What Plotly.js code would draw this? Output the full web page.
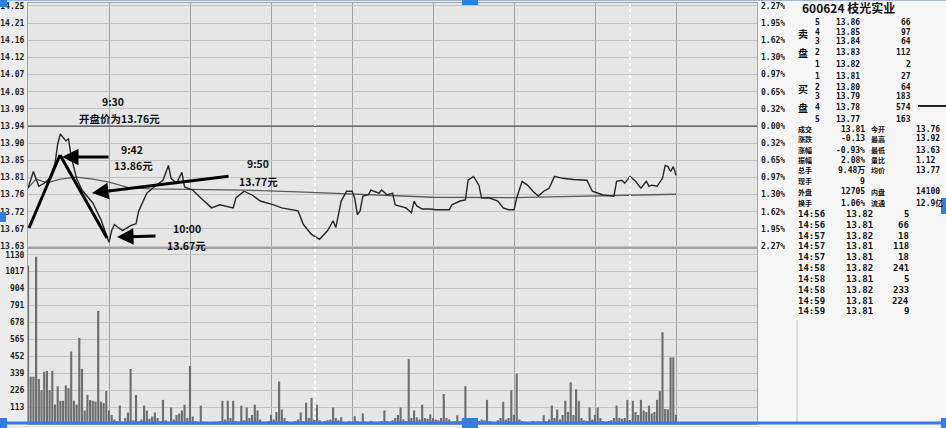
<!DOCTYPE html>
<html><head><meta charset="utf-8">
<script src="https://cdn.plot.ly/plotly-3.0.1.min.js"></script>
<style>html,body{margin:0;padding:0;background:#ececec;overflow:hidden}#chart{width:946px;height:428px}</style>
</head><body><div id="chart"></div>
<script>
// ---------- data ----------
const priceTime = [0,2,4,6,8,10,11,12,14,15,16,18,20,24,27,29,30,31,32,33,35,38,40,41,44,47,50,52,53,55,57,58,61,64,68,71,76,77,80,83,86,91,94,100,102,105,108,111,113,114,116,118,120,121,122,123,124,126,127,130,131,133,135,136,138,140,142,143,144,146,149,151,156,157,160,162,163,165,167,168,171,174,176,178,180,181,183,185,187,189,191,193,195,198,202,207,209,213,217,218,220,221,223,225,227,229,230,231,233,235,236,237,238,239,240];
const price = [13.776,13.820,13.781,13.789,13.802,13.841,13.893,13.919,13.901,13.906,13.859,13.802,13.771,13.737,13.693,13.654,13.633,13.664,13.680,13.674,13.664,13.677,13.682,13.716,13.763,13.781,13.797,13.836,13.802,13.789,13.818,13.779,13.771,13.750,13.724,13.732,13.724,13.750,13.768,13.758,13.742,13.732,13.724,13.716,13.680,13.654,13.641,13.664,13.690,13.672,13.742,13.768,13.768,13.750,13.706,13.716,13.755,13.758,13.771,13.763,13.771,13.758,13.763,13.732,13.729,13.724,13.711,13.742,13.729,13.721,13.721,13.719,13.719,13.732,13.742,13.745,13.797,13.807,13.784,13.750,13.750,13.742,13.724,13.719,13.719,13.750,13.794,13.784,13.768,13.755,13.768,13.776,13.807,13.802,13.799,13.797,13.768,13.758,13.755,13.794,13.797,13.789,13.807,13.794,13.776,13.794,13.781,13.784,13.781,13.802,13.836,13.833,13.820,13.833,13.810];
const avgTime = [0,3,7,12,18,24,30,37,45,60,80,100,120,150,180,210,240];
const avgPrice = [13.776,13.800,13.790,13.800,13.805,13.800,13.792,13.778,13.774,13.772,13.771,13.766,13.760,13.752,13.751,13.755,13.760];
const volume = [1059,316,316,1117,300,226,349,355,226,355,130,252,155,155,258,239,484,155,130,575,368,90,194,160,155,150,755,150,140,220,
90,60,30,20,123,15,40,77,368,25,194,20,30,123,90,35,50,77,40,20,161,25,15,110,30,60,70,90,129,40,
387,50,20,10,123,15,10,8,10,15,10,20,155,30,155,40,155,20,15,123,25,110,40,60,129,90,30,15,10,20,
60,30,80,284,97,40,20,10,15,20,30,77,20,142,40,174,30,129,25,15,20,25,30,110,40,25,45,15,10,20,
15,52,20,10,71,15,10,20,15,10,15,20,90,20,15,25,40,60,110,30,20,433,40,90,45,30,129,40,35,65,
40,30,25,40,200,40,30,15,20,58,20,30,252,40,20,15,10,20,30,25,161,20,15,10,25,40,148,30,40,226,
60,336,30,20,15,10,15,20,15,20,15,58,20,30,123,40,97,30,60,155,80,278,60,232,155,40,25,20,110,30,
60,110,40,20,15,20,25,40,123,40,35,40,161,40,155,80,60,161,90,80,123,70,80,161,220,613,100,97,445,445,60];
const priceLabels = ['14.25','14.21','14.16','14.12','14.07','14.03','13.99','13.94','13.90','13.85','13.81','13.76','13.72','13.67','13.63'];
const pctLabels = ['2.27%','1.95%','1.62%','1.30%','0.97%','0.65%','0.32%','0.00%','0.32%','0.65%','0.97%','1.30%','1.62%','1.95%','2.27%'];
const volLabels = ['1130','1017','904','791','678','565','452','339','226','113'];
const noteText = ['9:30','开盘价为13.76元','9:42','13.86元','9:50','13.77元','10:00','13.67元'];
const stockTitle = '600624 枝光实业';
const bookSide = ['卖','盘','买','盘'];
const bookIndex = ['5','4','3','2','1','1','2','3','4','5'];
const bookPrice = ['13.86','13.85','13.84','13.83','13.82','13.81','13.80','13.79','13.78','13.77'];
const bookVol = ['66','97','64','112','2','27','64','183','574','163'];
const statLabelA = ['成交','涨跌','涨幅','振幅','总手','现手','外盘','换手'];
const statValueA = ['13.81','-0.13','-0.93%','2.08%','9.48万','9','12705','1.06%'];
const statLabelB = ['今开','最高','最低','量比','均价','','内盘','流通'];
const statValueB = ['13.76','13.92','13.63','1.12','13.77','','14100','12.9亿'];
const tickTimes = ['14:56','14:56','14:57','14:57','14:57','14:58','14:58','14:58','14:59','14:59'];
const tickPrices = ['13.82','13.81','13.82','13.81','13.81','13.82','13.81','13.82','13.81','13.81'];
const tickVols = ['5','66','18','118','18','241','5','233','224','9'];

// ---------- layout helpers ----------
const prevClose = 13.94, gridStep = 0.0453;
const priceTickVals = priceLabels.map((t,i)=>prevClose + (7-i)*gridStep);
const volTickVals = volLabels.map(Number);
const ML=28, MT=3, PW=729, PH=421;
const px2x = px => (px-ML)/PW;
const px2y = py => 1-(py-MT)/PH;
const splitY = px2y(248);

const monoFont = {family:'DejaVu Sans Mono, Noto Sans CJK SC', size:9, color:'#111', weight:'bold'};
const smallMono = {family:'DejaVu Sans Mono, Noto Sans CJK SC', size:8, color:'#111', weight:'bold'};
const cjkFont = {family:'Noto Sans CJK SC, DejaVu Sans', size:10, color:'#111', weight:'bold'};
const cjkSmall = {family:'Noto Sans CJK SC, DejaVu Sans', size:7, color:'#111', weight:'bold'};
function T(px,py,text,anchor,font){
  return {xref:'paper',yref:'paper',x:px2x(px),y:px2y(py),text:text,showarrow:false,
          xanchor:anchor||'left',yanchor:'middle',font:font||monoFont,borderpad:0};
}
function Arrow(hx,hy,tx,ty){
  return {xref:'paper',yref:'paper',x:px2x(hx),y:px2y(hy),ax:tx-hx,ay:ty-hy,axref:'pixel',ayref:'pixel',
          text:'',showarrow:true,arrowhead:2,arrowsize:1.1,arrowwidth:3,arrowcolor:'#000',standoff:0,startstandoff:0};
}
const noteFont = {family:'Noto Sans CJK SC, DejaVu Sans', size:10.5, color:'#111', weight:'bold'};
const annotations = [
  T(113,101,noteText[0],'center',noteFont), T(119,118,noteText[1],'center',noteFont),
  T(132,149,noteText[2],'center',noteFont), T(133,166,noteText[3],'center',noteFont),
  T(258,164,noteText[4],'center',noteFont), T(258,181,noteText[5],'center',noteFont),
  T(187,228,noteText[6],'center',noteFont), T(186,245,noteText[7],'center',noteFont),
  Arrow(62,157,110,157), Arrow(92,193,230,176), Arrow(117,237,157,236),
  T(801,7,stockTitle,'left',{family:'Noto Sans CJK SC, DejaVu Sans',size:12,color:'#111',weight:'bold'})
];
const bookY=[22,32,42,53,64,76,87,97,108,119];
const sideY=[33,53,88,108];
bookSide.forEach((s,i)=>annotations.push(T(803,sideY[i],s,'center',cjkFont)));
bookY.forEach((y,i)=>{
  annotations.push(T(817,y,bookIndex[i],'center',smallMono));
  annotations.push(T(835,y,bookPrice[i],'left',smallMono));
  annotations.push(T(912,y,bookVol[i],'right',smallMono));
});
const statY=[129,139,150,160,170,181,192,203];
statY.forEach((y,i)=>{
  annotations.push(T(797,y,statLabelA[i],'left',cjkSmall));
  annotations.push(T(866,y,statValueA[i],'right',smallMono));
  if(statLabelB[i]) annotations.push(T(870,y,statLabelB[i],'left',cjkSmall));
  if(statValueB[i]) annotations.push(T(915,y,statValueB[i],'left',smallMono));
});
const tickY=[214,225,236,246,257,268,279,290,301,311];
tickY.forEach((y,i)=>{
  annotations.push(T(797,y,tickTimes[i],'left'));
  annotations.push(T(845,y,tickPrices[i],'left'));
  annotations.push(T(910,y,tickVols[i],'right'));
});

const blue='#2f7fe0';
function R(x0,y0,x1,y1,fill,layer){return {type:'rect',xref:'paper',yref:'paper',x0:px2x(x0),x1:px2x(x1),y0:px2y(y1),y1:px2y(y0),fillcolor:fill,line:{width:0},layer:layer||'above'};}
function L(x0,y0,x1,y1,color,w,dash){return {type:'line',xref:'paper',yref:'paper',x0:px2x(x0),x1:px2x(x1),y0:px2y(y0),y1:px2y(y1),line:{color:color,width:w,dash:dash||'solid'}};}
const shapes = [
  R(757,-2,948,430,'#f6f6f6','below'),
  {type:'line',xref:'paper',yref:'y',x0:0,x1:1,y0:prevClose,y1:prevClose,line:{color:'#4a4a4a',width:1.3}},
  L(315,3,315,424,'#ffffff',2,'dot'), L(630,3,630,424,'#ffffff',2,'dot'),
  L(797,320,797,424,'#c8c8c8',1),
  L(918,106,946,106,'#222',2),
  // editor frame / handles
  L(0,0.5,946,0.5,'#9db8d8',1),
  L(0,423,946,423,blue,3),
  R(0,0,7,7,blue), R(462,0,478,5,blue), R(0,212,6,222,blue),
  R(0,418,7,428,blue), R(462,418,478,428,blue), R(941,198,946,214,blue), R(941,418,946,428,blue),
  // hand-drawn trend lines
  L(29,228,60,155,'#000',3), L(60,155,107,238,'#000',3)
];

const traces = [
  {type:'bar',x:volume.map((v,i)=>i),y:volume,xaxis:'x2',yaxis:'y2',marker:{color:'#6f6f6f',line:{width:0}},hoverinfo:'skip'},
  {type:'scatter',mode:'lines',x:avgTime,y:avgPrice,xaxis:'x',yaxis:'y',line:{color:'#5a5a5a',width:1.3},hoverinfo:'skip'},
  {type:'scatter',mode:'lines',x:priceTime,y:price,xaxis:'x',yaxis:'y',line:{color:'#262626',width:1.4},hoverinfo:'skip'},
  {type:'scatter',mode:'lines',x:[0],y:[prevClose],xaxis:'x',yaxis:'y3',opacity:0,hoverinfo:'skip'}
];

const axFont = {family:'DejaVu Sans Mono', size:8, color:'#222', weight:'bold'};
const layout = {
  width:946, height:428, margin:{l:ML,r:189,t:MT,b:4},
  paper_bgcolor:'#ececec', plot_bgcolor:'#e6e6e6', showlegend:false, bargap:0.2,
  xaxis:{domain:[0,1],range:[0,270],anchor:'y',tickmode:'linear',tick0:0,dtick:30,showgrid:true,gridcolor:'#a2a2a2',gridwidth:1,
         showticklabels:false,ticks:'',zeroline:false,showline:true,mirror:true,linecolor:'#a2a2a2'},
  xaxis2:{domain:[0,1],range:[0,270],anchor:'y2',matches:'x',tickmode:'linear',tick0:0,dtick:30,showgrid:true,gridcolor:'#a2a2a2',
         showticklabels:false,ticks:'',zeroline:false,showline:true,mirror:true,linecolor:'#a2a2a2'},
  yaxis:{domain:[splitY,1],range:[13.618,14.265],tickmode:'array',tickvals:priceTickVals,ticktext:priceLabels,
         showgrid:true,gridcolor:'#c4c4c4',gridwidth:1,zeroline:false,ticks:'',tickfont:axFont,ticklabelstandoff:1,
         showline:true,mirror:true,linecolor:'#a2a2a2'},
  yaxis3:{overlaying:'y',side:'right',anchor:'x',range:[13.618,14.265],tickmode:'array',tickvals:priceTickVals,ticktext:pctLabels,
         showgrid:false,zeroline:false,ticks:'',tickfont:axFont,ticklabelstandoff:3,showline:false},
  yaxis2:{domain:[0,splitY],range:[0,1175],tickmode:'array',tickvals:volTickVals,ticktext:volLabels,
         showgrid:true,gridcolor:'#c4c4c4',zeroline:false,ticks:'',tickfont:axFont,ticklabelstandoff:1,
         showline:true,mirror:true,linecolor:'#a2a2a2'},
  annotations:annotations, shapes:shapes
};
Plotly.newPlot('chart',traces,layout,{staticPlot:true,displayModeBar:false});
</script></body></html>
